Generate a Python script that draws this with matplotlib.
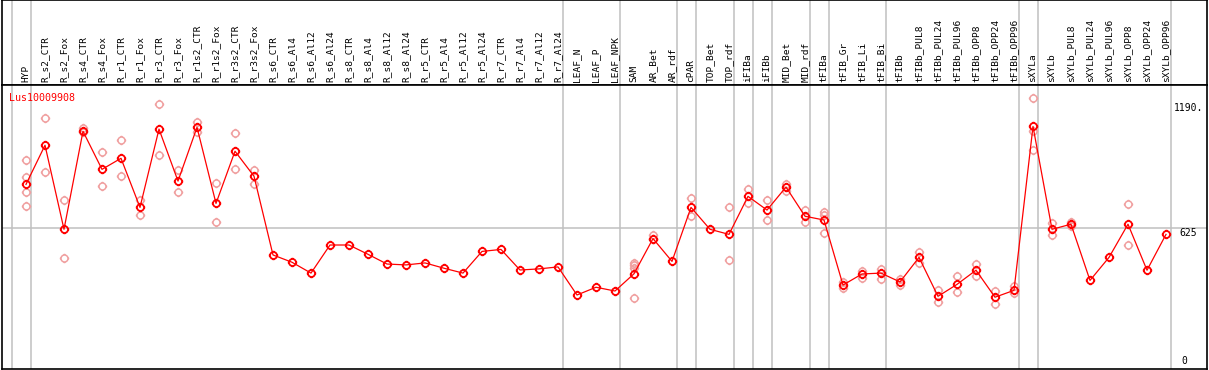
import numpy as np
import matplotlib
import matplotlib.pyplot as plt
from matplotlib.path import Path

matplotlib.use('Agg')

title = "Lus10009908"

labels = ["HYP", "R_s2_CTR", "R_s2_Fox", "R_s4_CTR", "R_s4_Fox", "R_r1_CTR",
          "R_r1_Fox", "R_r3_CTR", "R_r3_Fox", "R_r1s2_CTR", "R_r1s2_Fox",
          "R_r3s2_CTR", "R_r3s2_Fox", "R_s6_CTR", "R_s6_Al4", "R_s6_Al12",
          "R_s6_Al24", "R_s8_CTR", "R_s8_Al4", "R_s8_Al12", "R_s8_Al24",
          "R_r5_CTR", "R_r5_Al4", "R_r5_Al12", "R_r5_Al24", "R_r7_CTR",
          "R_r7_Al4", "R_r7_Al12", "R_r7_Al24", "LEAF_N", "LEAF_P", "LEAF_NPK",
          "SAM", "AR_Bet", "AR_rdf", "cPAR", "TOP_Bet", "TOP_rdf", "iFIBa",
          "iFIBb", "MID_Bet", "MID_rdf", "tFIBa", "tFIB_Gr", "tFIB_Li",
          "tFIB_Bi", "tFIBb", "tFIBb_PUL8", "tFIBb_PUL24", "tFIBb_PUL96",
          "tFIBb_OPP8", "tFIBb_OPP24", "tFIBb_OPP96", "sXYLa", "sXYLb",
          "sXYLb_PUL8", "sXYLb_PUL24", "sXYLb_PUL96", "sXYLb_OPP8",
          "sXYLb_OPP24", "sXYLb_OPP96"]

means = [821, 998, 618, 1061, 889, 939, 717, 1071, 836, 1079, 735, 971, 858,
         502, 469, 420, 547, 547, 505, 461, 457, 466, 442, 420, 518, 527,
         434, 439, 448, 321, 356, 339,
         417, 576, 473, 717, 618, 595, 767, 705, 809, 677, 660, 366, 416,
         420, 380, 491, 315, 369, 433, 311, 342, 1083, 618, 641, 387, 491,
         641, 433, 595]

replicates = [[931, 853, 787, 722], [1121, 876], [749, 487], [1077, 1059],
              [966, 812], [1020, 858], [750, 681], [1184, 952], [886, 785],
              [1103, 1059], [826, 650], [1053, 890], [886, 824],
              [], [], [], [], [], [], [], [], [], [], [], [], [], [], [], [],
              [], [], [],
              [464, 455, 444, 306], [594, 574], [], [758, 680], [],
              [719, 478], [800, 735], [749, 659], [824, 791], [705, 650],
              [698, 683, 600], [378, 352], [431, 399], [437, 395], [392, 366],
              [515, 464], [344, 291], [407, 333], [462, 405], [339, 279],
              [362, 329], [1210, 1064, 978], [646, 592], [651, 631], [], [],
              [731, 546], [], []]

# index of last column in each group
group_ends = [-1, 0, 28, 31, 34, 35, 37, 38, 39, 41, 42, 45, 52, 53, 60]

y_ticks = [1190, 625, 0]
y_tick_text = ["1190.", "625", "0"]

W, H = 1209, 370
fig = plt.figure(figsize=(W / 100, H / 100), dpi=100)

left = 2 / W
width = (1207 - 2) / W
head_h = 85 / H
ax_head = fig.add_axes([left, 1 - head_h, width, head_h])
ax = fig.add_axes([left, 1 / H, width, (369 - 85) / H])

x = np.arange(len(labels))
xlim = ((2 - 26) / 19, (1207 - 26) / 19)
for a in (ax, ax_head):
    a.set_xlim(*xlim)
    a.set_xticks([])
    a.set_yticks([])
    for s in a.spines.values():
        s.set_color('black')
        s.set_linewidth(1.2)
    for g in group_ends:
        a.axvline(g + 0.24, color='#c0c0c0', lw=1.1, zorder=0)

ax.set_ylim((366 - 369) / 0.2212, (366 - 85) / 0.2212)
ax_head.set_ylim(0, 1)

for i, lab in enumerate(labels):
    ax_head.text(i, 0.03, lab, rotation=90, ha='center', va='bottom',
                 fontsize=6.8, family='DejaVu Sans Mono')

ax.axhline(625, color='#c0c0c0', lw=1.1, zorder=0)

# circle marker with small nubs
circ = Path.unit_circle()
nubs = Path([(0, 1), (0, 1.35), (0, -1), (0, -1.35),
             (1, 0), (1.35, 0), (-1, 0), (-1.35, 0)],
            [Path.MOVETO, Path.LINETO] * 4)
mark = Path.make_compound_path(circ, nubs)

rx, ry = [], []
for i, reps in enumerate(replicates):
    for v in reps:
        rx.append(i)
        ry.append(v)
ax.plot(rx, ry, ls='none', marker=mark, ms=6.8, mfc='none',
        mec='#f0a0a0', mew=1.1, zorder=2)

ax.plot(x, means, color='red', lw=0.9, zorder=3)
ax.plot(x, means, ls='none', marker=mark, ms=6.8, mfc='none',
        mec='red', mew=1.3, zorder=4)

ax.text(-0.88, 1210, title, color='red', fontsize=7.2,
        family='DejaVu Sans Mono', ha='left', va='center')

offs = [60.42, 60.68, 60.8]
vas = ['top', 'top', 'bottom']
for v, t, xo, va in zip(y_ticks, y_tick_text, offs, vas):
    ax.text(xo, v, t, fontsize=7, family='DejaVu Sans Mono', ha='left',
            va=va, clip_on=True)

plt.savefig('out.png', dpi=100)
plt.close()
